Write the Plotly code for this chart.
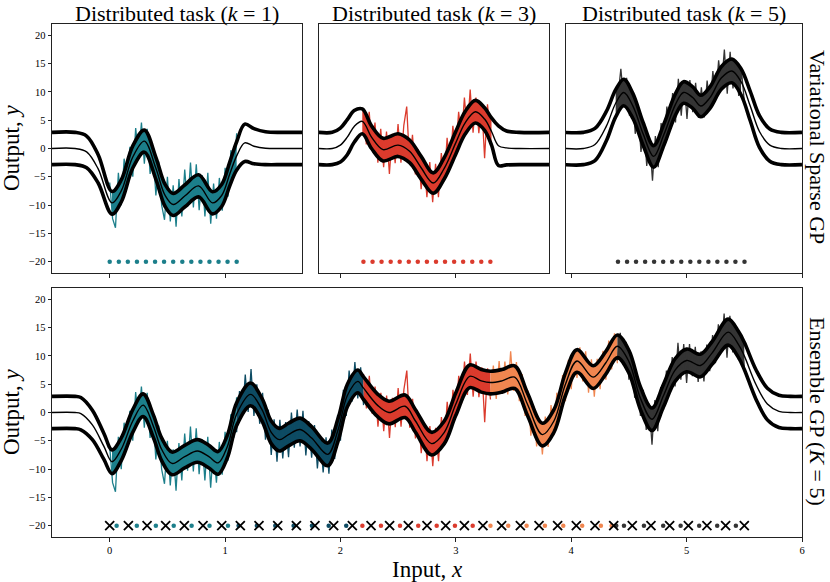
import plotly.graph_objects as go

FONT = "Liberation Serif"

TASK_COLORS = ["#1c7f8b", "#0d4b63", "#db3b2d", "#f08650", "#343434"]
TASK_STARTS = [0.0, 1.1, 2.2, 3.3, 4.4]
TASK_WIDTH = 1.1
OBS_STEP = 0.025

OBS_1 = [-6.0, -12.4, -14.0, -4.3, -10.0, -1.8, -6.5, 0.3, -5.0, 3.6, -1.5,
         4.6, -2.7, 3.5, -4.5, -0.5, -8.3, -2.3, -10.0, -12.6, -5.0, -12.9,
         -6.5, -13.8, -5.4, -12.0, -3.7, -10.3, -2.5, -10.4, -2.8, -10.9, -4.7,
         -12.0, -4.3, -13.3, -6.2, -12.4, -5.2, -11.0, -3.4, -8.5, -0.3, -4.5, 2.7]
OBS_2 = [-3.5, 3.8, -0.6, 6.7, 0.1, 7.7, -0.6, 5.0, -2.0, 3.5, -4.8,
         0.5, -7.5, -1.2, -8.7, -1.3, -8.1, -1.7, -7.9, 0.0, -6.2, 0.5,
         -6.0, 0.3, -7.6, -1.5, -8.0, -2.2, -9.9, -4.1, -10.6, -4.4, -10.8,
         -3.0, -8.2, -0.4, -5.0, 4.0, -0.6, 7.4, 1.9, 8.9, 2.5, 8.0, 1.3]
OBS_3 = [6.8, 0.7, 6.5, -0.2, 4.6, -2.5, 3.5, -3.3, 3.0, -4.5, 2.6,
         -2.6, 4.3, -2.5, 4.1, 7.4, -2.7, 2.4, -4.6, -0.2, -7.2, -2.0,
         -8.6, -2.4, -9.5, -2.7, -8.6, -0.8, -5.8, 1.9, -3.3, 4.0, -0.7,
         6.5, 1.6, 9.0, 3.1, 10.4, 2.8, 9.0, 2.7, 8.0, -1.7, 7.8, 2.3]
OBS_4 = [2.8, 8.3, 2.4, 9.1, 3.3, 9.0, 3.2, 10.8, 3.8, 8.9, 2.0,
         6.8, -0.6, 3.9, -4.1, 1.1, -6.0, -1.2, -7.4, -0.7, -6.1, 1.3,
         -4.0, 3.5, -1.0, 6.6, 2.0, 9.3, 4.1, 10.6, 6.1, 11.5, 5.5,
         10.8, 3.5, 9.4, 2.8, 9.5, 4.1, 10.9, 5.8, 12.7, 7.6, 14.0, 8.7]
OBS_5 = [9.2, 14.1, 8.5, 12.5, 5.8, 9.8, 2.6, 6.4, -0.6, 4.0, -3.1,
         1.6, -5.7, 2.2, -3.3, 4.5, 0.5, 7.4, 3.2, 9.8, 4.6, 12.3,
         5.8, 12.1, 5.2, 12.1, 6.4, 11.6, 5.4, 10.8, 5.5, 12.0, 7.3,
         13.7, 8.7, 15.6, 10.9, 17.5, 9.7, 17.1, 10.6, 15.3, 9.3, 13.4, 8.0]
OBS = [OBS_1, OBS_2, OBS_3, OBS_4, OBS_5]

# variational sparse GP, k = 1
VS1_X = [-0.5, -0.3, -0.2, -0.1, 0.02, 0.1, 0.2, 0.3, 0.4, 0.48, 0.55,
         0.65, 0.77, 0.89, 0.97, 1.04, 1.1, 1.17, 1.25, 1.35, 1.5, 1.67]
VS1_MEAN = [0, 0, -0.6, -3.6, -9.6, -7.5, -1.5, 1.3, -3.5, -8.3, -9.9,
            -8.4, -6.6, -9.6, -8.3, -4.5, -1.3, 1.0, 0.4, 0.05, 0, 0]
VS1_HW = [2.85, 2.85, 2.8, 2.5, 2.0, 1.95, 1.95, 1.95, 1.95, 1.95, 1.95,
          1.95, 1.95, 1.95, 1.95, 2.1, 2.5, 3.3, 3.1, 2.9, 2.85, 2.85]

# variational sparse GP, k = 3
VS3_X = [1.81, 1.93, 2.0, 2.06, 2.12, 2.19, 2.27, 2.37, 2.5, 2.6, 2.7,
         2.805, 2.9, 3.0, 3.08, 3.17, 3.25, 3.31, 3.37, 3.44, 3.55, 3.81]
VS3_MEAN = [0, 0, 0.6, 2.0, 3.9, 4.8, 2.0, -0.2, 0.6, -0.5, -3.4,
            -6.1, -3.5, 1.0, 4.5, 6.5, 5.2, 3.0, 0.5, 0.1, 0, 0]
VS3_HW = [2.85, 2.85, 3.0, 3.1, 2.8, 2.2, 2.0, 2.0, 2.0, 2.0, 2.0,
          1.8, 1.9, 2.0, 2.0, 2.0, 2.0, 2.4, 3.5, 3.0, 2.85, 2.85]

# variational sparse GP, k = 5
VS5_X = [3.94, 4.1, 4.2, 4.3, 4.38, 4.45, 4.53, 4.62, 4.71, 4.8, 4.9, 4.97,
         5.05, 5.12, 5.2, 5.3, 5.39, 5.47, 5.55, 5.63, 5.72, 5.82, 6.0]
VS5_MEAN = [0, 0, 0.7, 4.0, 8.0, 9.9, 7.5, 2.5, -1.4, 2.5, 7.8, 9.9,
            9.0, 7.5, 9.0, 12.5, 13.7, 11.8, 7.5, 3.0, 0.6, 0, 0]
VS5_HW = [2.85, 2.85, 2.85, 2.6, 2.4, 2.35, 2.2, 2.0, 1.9, 1.9, 1.9, 1.9,
          1.9, 1.9, 1.9, 2.0, 2.1, 2.3, 2.6, 2.8, 2.85, 2.85, 2.85]

# ensemble GP (K = 5)
ENS_X = [-0.5, -0.3, -0.25, -0.15, -0.05, 0.02, 0.1, 0.2, 0.29, 0.38, 0.45,
         0.54, 0.65, 0.76, 0.86, 0.94, 1.02, 1.1, 1.22, 1.32, 1.4, 1.47,
         1.55, 1.65, 1.75, 1.89, 1.98, 2.06, 2.15, 2.2, 2.32, 2.42, 2.56,
         2.65, 2.79, 2.9, 3.0, 3.12, 3.22, 3.3, 3.4, 3.51, 3.62, 3.75,
         3.85, 3.95, 4.05, 4.19, 4.3, 4.4, 4.5, 4.6, 4.7, 4.8, 4.9,
         5.0, 5.12, 5.22, 5.36, 5.45, 5.5, 5.6, 5.7, 5.8, 5.9, 6.0]
ENS_MEAN = [0, 0, -0.2, -2.2, -6.0, -8.7, -6.5, -1.5, 1.3, -2.5, -6.5,
            -9.0, -7.8, -6.8, -7.8, -8.9, -6.0, -0.3, 3.2, 0.5, -3.5, -4.8,
            -3.9, -3.0, -4.5, -7.4, -3.0, 3.0, 5.5, 4.3, 1.3, 0.0, 1.1,
            -1.5, -5.5, -3.5, 1.5, 6.4, 5.6, 5.3, 5.6, 6.25, 1.5, -3.9,
            -1.5, 5.0, 9.1, 6.25, 8.8, 11.7, 9.0, 2.5, -1.2, 3.0, 7.5,
            9.2, 8.3, 10.5, 14.2, 12.0, 10.0, 5.0, 1.5, 0.2, 0, 0]
ENS_HW = [2.85, 2.85, 2.85, 2.6, 2.3, 2.1, 2.0, 2.0, 2.0, 2.0, 2.0,
          2.0, 2.0, 2.0, 2.0, 2.0, 2.0, 2.0, 2.0, 2.0, 2.0, 2.0,
          2.0, 2.0, 2.0, 2.0, 2.0, 2.0, 2.0, 2.0, 2.0, 2.0, 2.0,
          2.0, 2.0, 2.0, 2.0, 2.0, 2.0, 2.0, 2.0, 2.0, 2.0, 2.0,
          2.0, 2.0, 2.0, 2.0, 2.0, 2.0, 2.0, 2.0, 2.0, 2.0, 2.0,
          2.0, 2.0, 2.0, 2.3, 2.3, 2.4, 2.6, 2.8, 2.85, 2.85, 2.85]

# inducing inputs
TOP_INDUCING_OFFSETS = [0.0, 0.079, 0.157, 0.236, 0.314, 0.393, 0.471, 0.55,
                        0.629, 0.707, 0.786, 0.864, 0.943, 1.021, 1.1]
ENS_INDUCING = [
    [0.06, 0.235, 0.40, 0.555, 0.71, 0.865, 1.025],
    [1.117, 1.276, 1.435, 1.594, 1.753, 1.898, 2.05],
    [2.19, 2.351, 2.516, 2.674, 2.834, 2.992, 3.146],
    [3.30, 3.454, 3.613, 3.772, 3.931, 4.095, 4.257, 4.35],
    [4.39, 4.457, 4.63, 4.797, 4.948, 5.109, 5.265, 5.427],
]
ENS_CROSSES = [0.0, 0.162, 0.324, 0.485, 0.647, 0.809, 0.971, 1.132, 1.294,
               1.456, 1.618, 1.779, 1.941, 2.103, 2.265, 2.426, 2.588, 2.75,
               2.912, 3.074, 3.235, 3.397, 3.559, 3.721, 3.882, 4.044, 4.206,
               4.368, 4.529, 4.691, 4.853, 5.015, 5.176, 5.338, 5.5]
INDUCING_Y = -20

Y_TICKS = [-20, -15, -10, -5, 0, 5, 10, 15, 20]


def ax_id(n):
    return "" if n == 1 else str(n)


def curve(x, y, n, color, width, **kw):
    return go.Scatter(x=x, y=y, mode="lines",
                      line=dict(color=color, width=width, shape="spline", smoothing=1.0),
                      xaxis="x" + ax_id(n), yaxis="y" + ax_id(n),
                      hoverinfo="skip", showlegend=False, **kw)


def add_obs(fig, n, k):
    fig.add_trace(go.Scatter(y=OBS[k], x0=TASK_STARTS[k], dx=OBS_STEP, mode="lines",
                             line=dict(color=TASK_COLORS[k], width=1.3),
                             xaxis="x" + ax_id(n), yaxis="y" + ax_id(n),
                             hoverinfo="skip", showlegend=False))


def add_band(fig, n, xs, mean, hw, tasks):
    upper = [m + h for m, h in zip(mean, hw)]
    lower = [m - h for m, h in zip(mean, hw)]
    for k in tasks:
        lo, hi = TASK_STARTS[k] - 0.03, TASK_STARTS[k] + TASK_WIDTH + 0.03
        idx = [i for i, x in enumerate(xs) if lo <= x <= hi]
        sx = [xs[i] for i in idx]
        fig.add_trace(curve(sx, [lower[i] for i in idx], n, TASK_COLORS[k], 0))
        fig.add_trace(curve(sx, [upper[i] for i in idx], n, TASK_COLORS[k], 0,
                            fill="tonexty", fillcolor=TASK_COLORS[k]))
    return upper, lower


def add_lines(fig, n, xs, mean, upper, lower):
    fig.add_trace(curve(xs, upper, n, "black", 3.6))
    fig.add_trace(curve(xs, lower, n, "black", 3.6))
    fig.add_trace(curve(xs, mean, n, "black", 1.4))


def add_dots(fig, n, xs, color):
    fig.add_trace(go.Scatter(x=xs, y=[INDUCING_Y] * len(xs), mode="markers",
                             marker=dict(color=color, size=4.5, line=dict(width=0)),
                             xaxis="x" + ax_id(n), yaxis="y" + ax_id(n),
                             hoverinfo="skip", showlegend=False))


fig = go.Figure()

# top row: variational sparse GP on single tasks
top = [(1, 0, VS1_X, VS1_MEAN, VS1_HW), (2, 2, VS3_X, VS3_MEAN, VS3_HW),
       (3, 4, VS5_X, VS5_MEAN, VS5_HW)]
for n, k, xs, mean, hw in top:
    up, low = add_band(fig, n, xs, mean, hw, [k])
    add_obs(fig, n, k)
    add_lines(fig, n, xs, mean, up, low)
    add_dots(fig, n, [TASK_STARTS[k] + o for o in TOP_INDUCING_OFFSETS], TASK_COLORS[k])

# bottom: ensemble GP
up, low = add_band(fig, 4, ENS_X, ENS_MEAN, ENS_HW, range(5))
for k in range(5):
    add_obs(fig, 4, k)
add_lines(fig, 4, ENS_X, ENS_MEAN, up, low)
for k in range(5):
    add_dots(fig, 4, ENS_INDUCING[k], TASK_COLORS[k])
fig.add_trace(go.Scatter(x=ENS_CROSSES, y=[INDUCING_Y] * len(ENS_CROSSES), mode="markers",
                         marker=dict(symbol="x-thin", size=9, color="black",
                                     line=dict(width=1.8, color="black")),
                         xaxis="x4", yaxis="y4", hoverinfo="skip", showlegend=False))

W, H = 830, 582
frame = dict(showline=True, mirror=True, linecolor="#222", linewidth=1,
             showgrid=False, zeroline=False, ticks="outside", ticklen=3.5,
             tickcolor="#222", automargin=False,
             tickfont=dict(family=FONT, size=10.5, color="black"))

top_y = [1 - 273 / H, 1 - 24 / H]
bot_y = [1 - 537 / H, 1 - 288 / H]

fig.update_layout(
    width=W, height=H, margin=dict(l=0, r=0, t=0, b=0, autoexpand=False),
    plot_bgcolor="white", paper_bgcolor="white", showlegend=False,
    xaxis=dict(frame, domain=[52 / W, 302 / W], range=[-0.5, 1.666],
               tickvals=[0, 1], showticklabels=False, anchor="y"),
    yaxis=dict(frame, domain=top_y, range=[-22, 22], tickvals=Y_TICKS, anchor="x"),
    xaxis2=dict(frame, domain=[319 / W, 549 / W], range=[1.815, 3.808],
                tickvals=[2, 3], showticklabels=False, anchor="y2"),
    yaxis2=dict(frame, domain=top_y, range=[-22, 22], ticks="",
                showticklabels=False, anchor="x2"),
    xaxis3=dict(frame, domain=[566 / W, 802 / W], range=[3.948, 6.0],
                tickvals=[4, 5, 6], showticklabels=False, anchor="y3"),
    yaxis3=dict(frame, domain=top_y, range=[-22, 22], ticks="",
                showticklabels=False, anchor="x3"),
    xaxis4=dict(frame, domain=[52 / W, 802 / W], range=[-0.5, 6.0],
                tickvals=[0, 1, 2, 3, 4, 5, 6], anchor="y4"),
    yaxis4=dict(frame, domain=bot_y, range=[-22, 22], tickvals=Y_TICKS, anchor="x4"),
)

ann = []
for k, cx in ((1, 177), (3, 434), (5, 684)):
    ann.append(dict(text=f"Distributed task (<i>k</i> = {k})", x=cx / W, y=1.0,
                    yanchor="top", borderpad=0, font=dict(size=22)))
for cy in (148, 412):
    ann.append(dict(text="Output, <i>y</i>", x=11 / W, y=1 - cy / H, textangle=-90,
                    font=dict(size=23)))
ann.append(dict(text="Variational Sparse GP", x=818 / W, y=1 - 147 / H, textangle=90,
                font=dict(size=22)))
ann.append(dict(text="Ensemble GP (<i>K</i> = 5)", x=818 / W, y=1 - 411 / H, textangle=90,
                font=dict(size=22)))
ann.append(dict(text="Input, <i>x</i>", x=427 / W, y=1 - 569 / H, font=dict(size=23)))
for a in ann:
    a.setdefault("yanchor", "middle")
    a.update(xref="paper", yref="paper", showarrow=False, xanchor="center")
    a["font"].update(family=FONT, color="black")
fig.update_layout(annotations=ann)

# the page body has a default margin; drop it so the figure sits at the window corner
fig.write_html("out.html", config={"displayModeBar": False},
               post_script="document.body.style.margin='0';"
                           "document.body.style.overflow='hidden';")
